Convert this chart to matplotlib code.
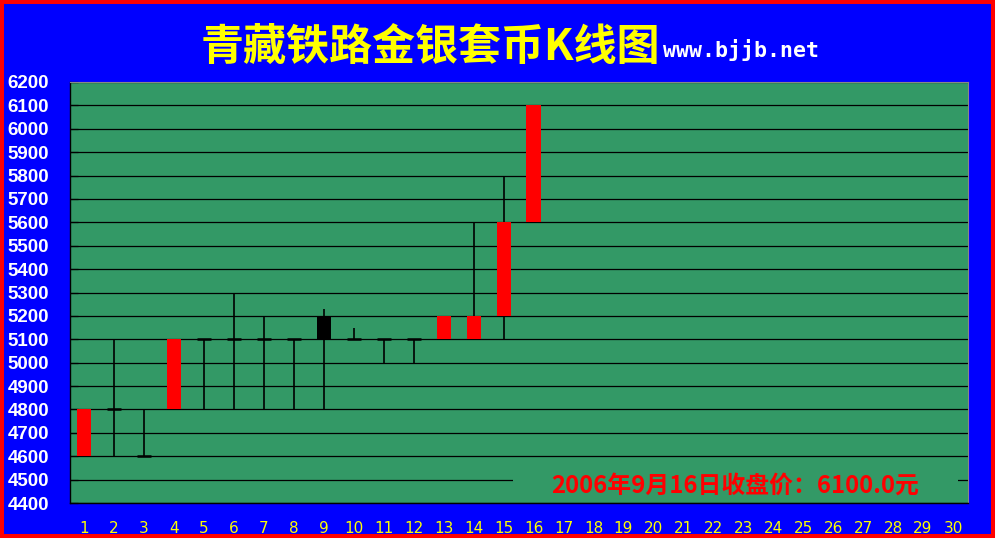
import matplotlib
matplotlib.use("Agg")
from matplotlib import pyplot as plt
from matplotlib.patches import Rectangle
import numpy as np

plt.rcParams['font.family'] = ['Noto Sans CJK SC', 'DejaVu Sans']

# daily prices (day 1..16 of 30)
days = list(range(1, 31))
opens = [4600, 4800, 4600, 4800, 5100, 5100, 5100, 5100, 5200, 5100, 5100, 5100, 5100, 5100, 5200, 5600]
highs = [4800, 5100, 4800, 5100, 5100, 5300, 5200, 5100, 5230, 5150, 5100, 5100, 5200, 5600, 5800, 6100]
lows = [4600, 4600, 4600, 4800, 4800, 4800, 4800, 4800, 4800, 5100, 5000, 5000, 5100, 5100, 5100, 5600]
closes = [4800, 4800, 4600, 5100, 5100, 5100, 5100, 5100, 5100, 5100, 5100, 5100, 5200, 5200, 5600, 6100]
y_ticks = list(range(4400, 6201, 100))

title = '青藏铁路金银套币K线图'
site = 'www.bjjb.net'
note = '2006年9月16日收盘价：6100.0元'

green = '#339966'
blue = '#0000ff'

fig = plt.figure(figsize=(9.99, 5.42), dpi=100)
fig.patch.set_facecolor('white')
# blue panel with red frame
fig.patches.append(Rectangle((2 / 999, 1 - 535.5 / 542), 990.5 / 999, 533.5 / 542,
                             transform=fig.transFigure, facecolor=blue,
                             edgecolor='red', linewidth=2.9, zorder=-10))

ax = fig.add_axes([70 / 999, 1 - 503 / 542, 898 / 999, 421 / 542])
ax.set_facecolor(green)
ax.set_xlim(0.53, 30.5)
ax.set_ylim(4400, 6200)

ax.set_yticks(y_ticks)
ax.set_yticklabels([str(v) for v in y_ticks])
ax.set_xticks(days)
ax.set_xticklabels([str(d) for d in days])
ax.grid(axis='y', color='black', linewidth=0.9)
ax.set_axisbelow(True)

ax.tick_params(axis='y', direction='in', length=6, width=0.9, color='black',
               pad=45, labelcolor='white', labelsize=13.5)
for lab in ax.get_yticklabels():
    lab.set_horizontalalignment('left')
    lab.set_fontfamily('Liberation Sans')
    lab.set_fontweight('bold')
ax.tick_params(axis='x', length=0, pad=13, labelcolor='#ffff00', labelsize=11)
for lab in ax.get_xticklabels():
    lab.set_fontfamily('DejaVu Sans')

for side in ['top', 'right']:
    ax.spines[side].set_color('#888888')
    ax.spines[side].set_linewidth(0.8)
for side in ['left', 'bottom']:
    ax.spines[side].set_color('black')
    ax.spines[side].set_linewidth(1.0)

# candles
w = 0.47
x = np.arange(1, len(opens) + 1)
o = np.array(opens)
c = np.array(closes)
ax.vlines(x, lows, highs, color='black', linewidth=1.2, zorder=3)
body = c != o
cols = np.where(c > o, 'red', 'black')
ax.bar(x[body], np.abs(c - o)[body], bottom=np.minimum(o, c)[body], width=w,
       color=cols[body], zorder=4)
ax.hlines(o[~body], x[~body] - w / 2, x[~body] + w / 2, color='black',
          linewidth=1.8, zorder=4)

# closing note
ax.add_patch(Rectangle((0.4933, 0.01), 0.4956, 0.085, transform=ax.transAxes,
                       facecolor=green, edgecolor='none', zorder=2.5))
ax.text(0.7405, 0.041, note, transform=ax.transAxes, ha='center', va='center',
        color='red', fontsize=17.2, fontweight='bold', zorder=5)

fig.text(660 / 999, 1 - 60 / 542, title, ha='right', va='baseline',
         color='#ffff00', fontsize=31, fontweight='bold')
fig.text(663 / 999, 1 - 57 / 542, site, ha='left', va='baseline',
         color='white', fontsize=15.5, fontweight='bold', family='DejaVu Sans Mono')

fig.savefig('out.png', dpi=100, facecolor=fig.get_facecolor())
